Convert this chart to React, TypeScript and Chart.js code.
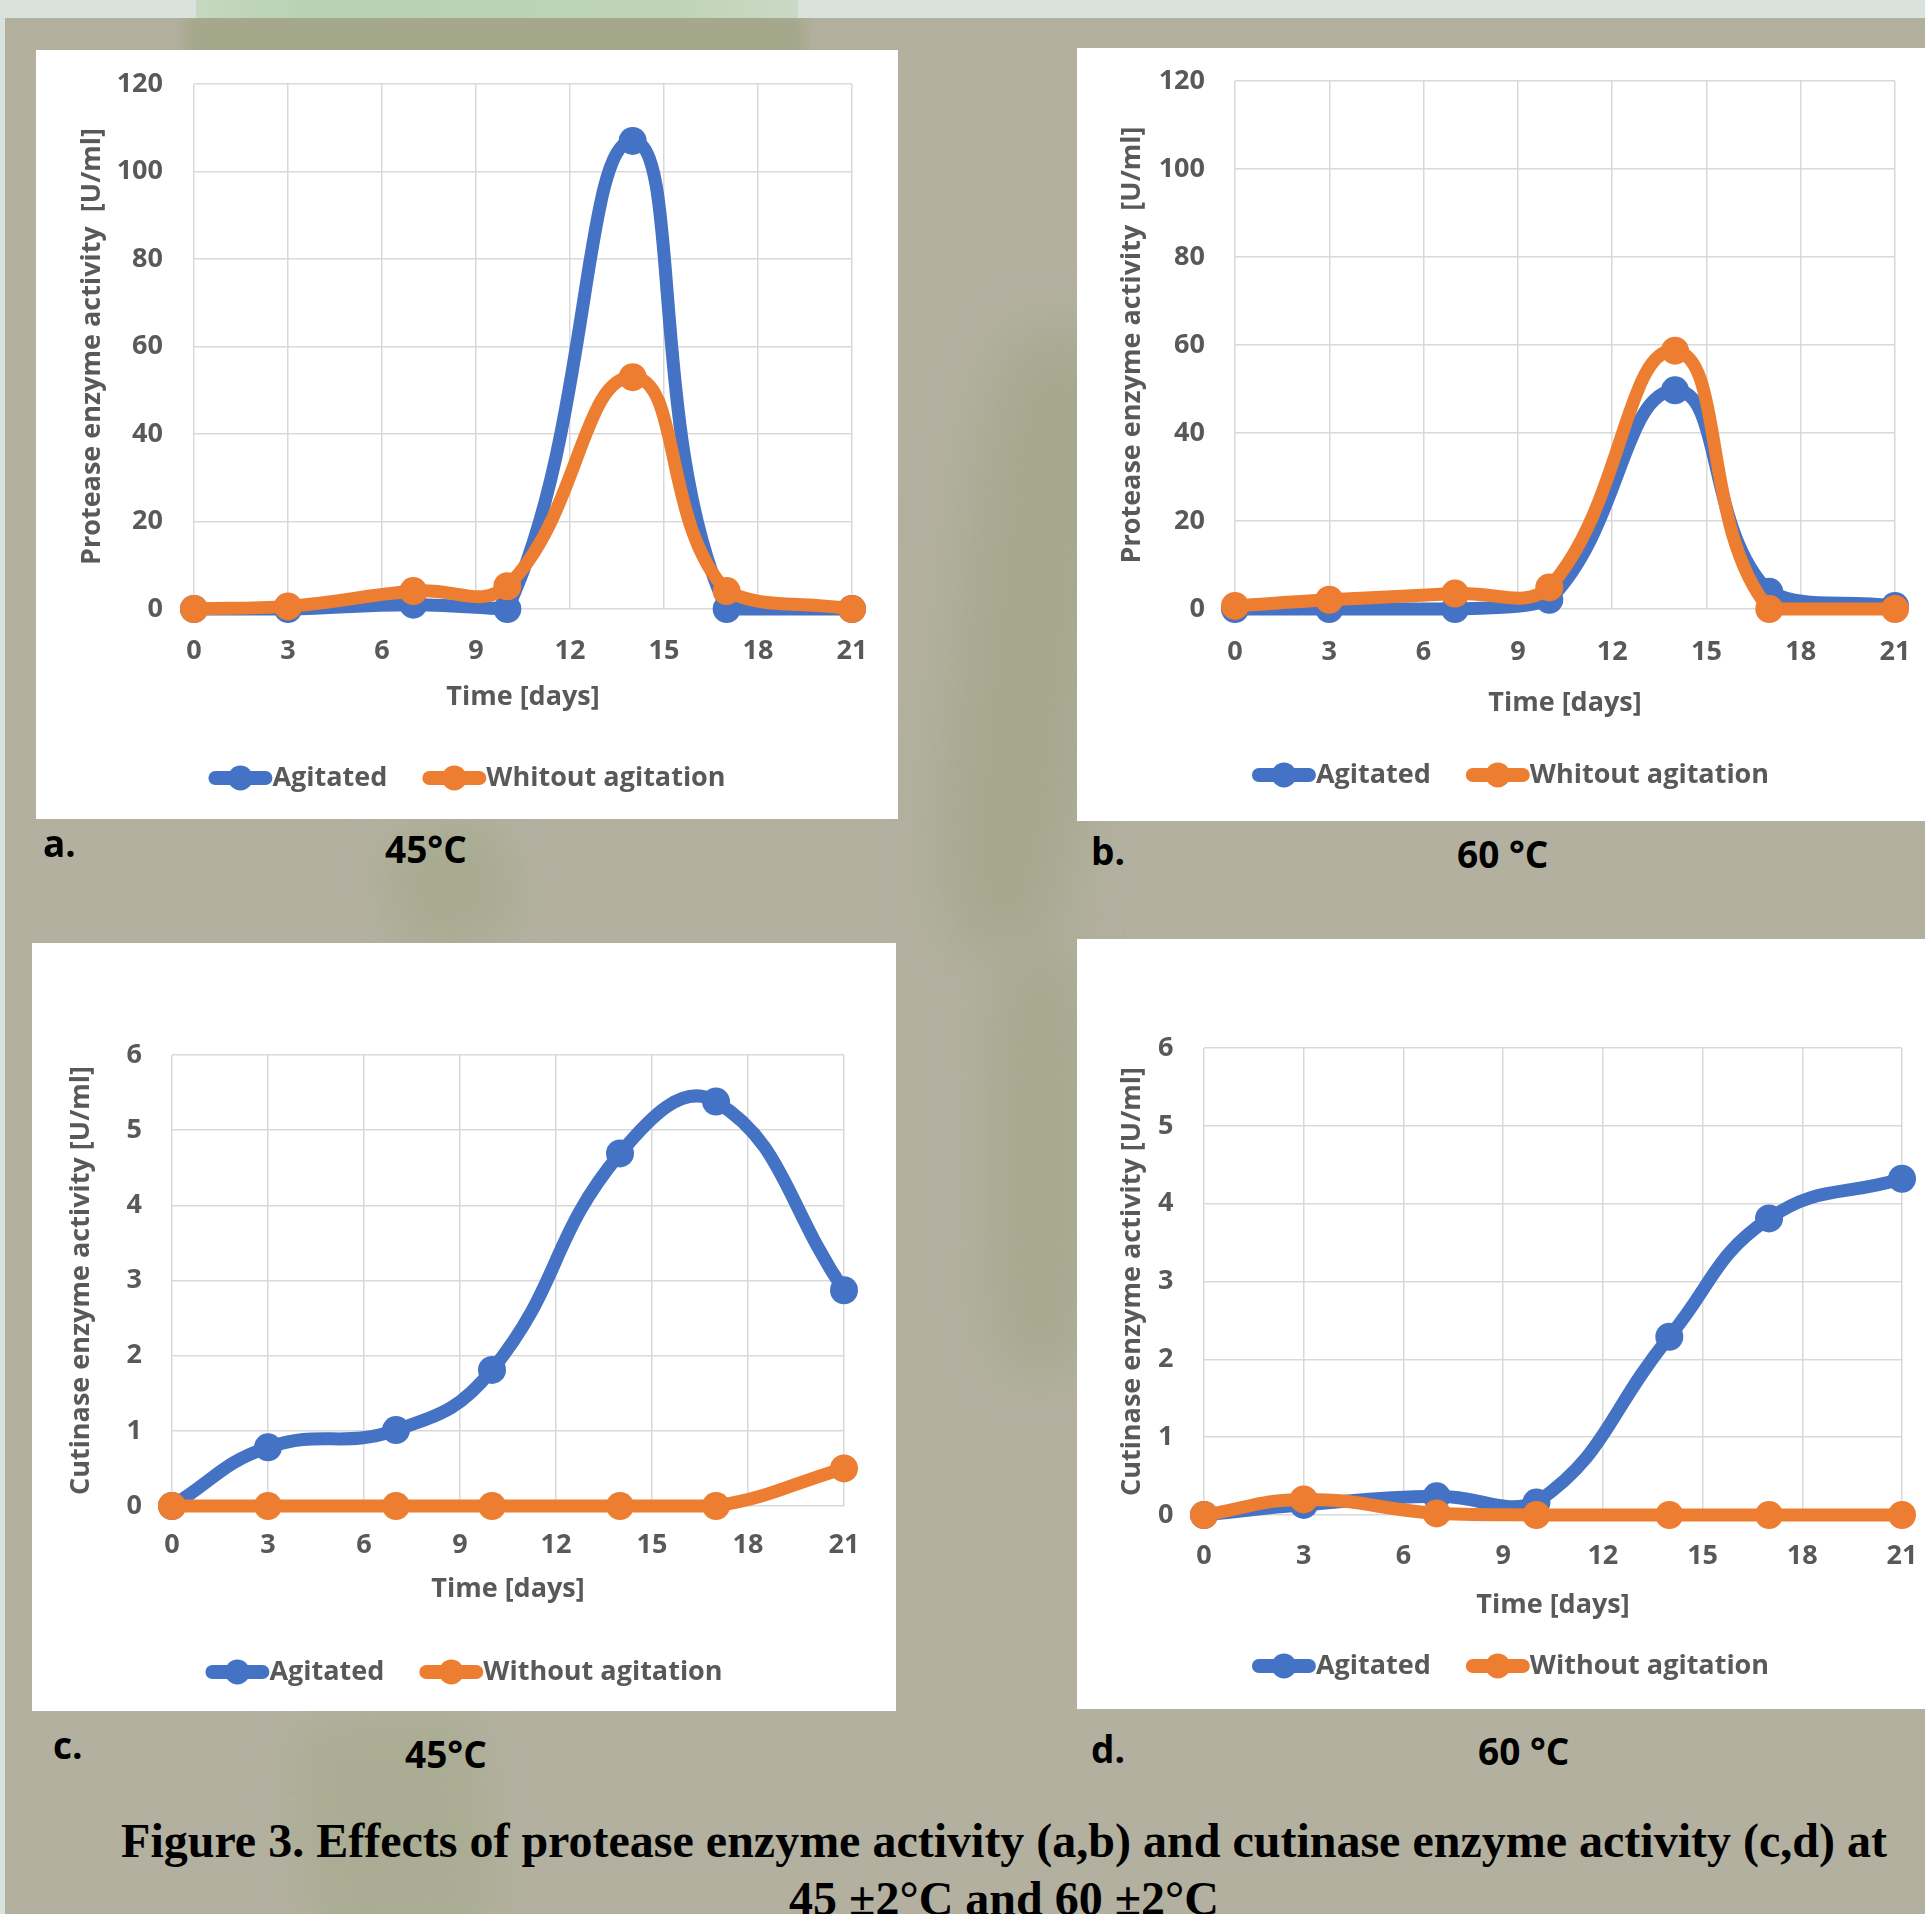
import React, { useEffect, useRef } from "react";
import { Chart, registerables } from "chart.js";

Chart.register(...registerables);

// ---------------- data ----------------
const days = [0, 3, 7, 10, 14, 17, 21];
const xTickValues = [0, 3, 6, 9, 12, 15, 18, 21];
const proteaseTicks = [0, 20, 40, 60, 80, 100, 120];
const cutinaseTicks = [0, 1, 2, 3, 4, 5, 6];

const proteaseAgitated45 = [0, 0, 1, 0, 107, 0, 0];
const proteaseWithout45 = [0, 0.6, 4.1, 5.2, 53, 4.1, 0];
const proteaseAgitated60 = [0, 0, 0, 2.1, 49.7, 3.9, 0.7];
const proteaseWithout60 = [0.7, 2.1, 3.5, 4.9, 58.7, 0, 0];
const cutinaseAgitated45 = [0, 0.78, 1.01, 1.81, 4.69, 5.38, 2.87];
const cutinaseWithout45 = [0, 0, 0, 0, 0, 0, 0.5];
const cutinaseAgitated60 = [0, 0.13, 0.24, 0.16, 2.29, 3.81, 4.32];
const cutinaseWithout60 = [0, 0.2, 0.02, 0, 0, 0, 0];

const seriesNames = ["Agitated", "Whitout agitation", "Without agitation"];
const xTitle = "Time [days]";
const proteaseTitle = "Protease enzyme activity  [U/ml]";
const cutinaseTitle = "Cutinase enzyme activity [U/ml]";

// ---------------- style ----------------
const FONT = "'Open Sans', 'Noto Sans', 'DejaVu Sans', sans-serif";
const FS = 27;
const LH = FS * 1.2;
const BLUE = "#4472c4";
const ORANGE = "#ed7d31";
const GRAY = "#595959";
const GRID = "#d9d9d9";

type PanelCfg = {
  left: number; top: number; width: number; height: number;
  plotL: number; plotR: number; plotT: number; plotB: number;
  yTickPad: number; yTitleC: number; xTickMid: number; xTitleMid: number; legendY: number;
  yMax: number; yTicks: number[]; yTitle: string;
  agitated: number[]; without: number[]; withoutLabel: string;
};

const panels: PanelCfg[] = [
  {
    left: 36, top: 50, width: 862, height: 769,
    plotL: 158, plotR: 816, plotT: 34, plotB: 559,
    yTickPad: 31, yTitleC: 56, xTickMid: 601, xTitleMid: 647, legendY: 728,
    yMax: 120, yTicks: proteaseTicks, yTitle: proteaseTitle,
    agitated: proteaseAgitated45, without: proteaseWithout45, withoutLabel: seriesNames[1],
  },
  {
    left: 1077, top: 48, width: 867, height: 773,
    plotL: 158, plotR: 818, plotT: 33, plotB: 561,
    yTickPad: 30, yTitleC: 55, xTickMid: 604, xTitleMid: 655.5, legendY: 727,
    yMax: 120, yTicks: proteaseTicks, yTitle: proteaseTitle,
    agitated: proteaseAgitated60, without: proteaseWithout60, withoutLabel: seriesNames[1],
  },
  {
    left: 32, top: 943, width: 864, height: 768,
    plotL: 140, plotR: 812, plotT: 112, plotB: 563,
    yTickPad: 30, yTitleC: 49, xTickMid: 602, xTitleMid: 646.5, legendY: 729,
    yMax: 6, yTicks: cutinaseTicks, yTitle: cutinaseTitle,
    agitated: cutinaseAgitated45, without: cutinaseWithout45, withoutLabel: seriesNames[2],
  },
  {
    left: 1077, top: 939, width: 867, height: 770,
    plotL: 127, plotR: 825, plotT: 109, plotB: 576,
    yTickPad: 30.5, yTitleC: 55.5, xTickMid: 617.5, xTitleMid: 666, legendY: 727,
    yMax: 6, yTicks: cutinaseTicks, yTitle: cutinaseTitle,
    agitated: cutinaseAgitated60, without: cutinaseWithout60, withoutLabel: seriesNames[2],
  },
];

function makeLegendPlugin(legendY: number) {
  return {
    id: "lineLegend",
    afterDraw(chart: any) {
      const ctx = chart.ctx as CanvasRenderingContext2D;
      const items = chart.data.datasets.map((ds: any) => ({ label: ds.label, color: ds.borderColor }));
      ctx.save();
      ctx.font = `bold ${FS}px ${FONT}`;
      const marker = 64;
      const gap = 35;
      const widths = items.map((it: any) => marker + ctx.measureText(it.label).width);
      const total = widths.reduce((a: number, b: number) => a + b, 0) + gap * (items.length - 1);
      let x = chart.width / 2 - total / 2;
      items.forEach((it: any, i: number) => {
        ctx.strokeStyle = it.color;
        ctx.lineWidth = 14;
        ctx.lineCap = "round";
        ctx.beginPath();
        ctx.moveTo(x + 7, legendY);
        ctx.lineTo(x + marker - 7, legendY);
        ctx.stroke();
        ctx.fillStyle = it.color;
        ctx.beginPath();
        ctx.arc(x + marker / 2, legendY, 12.5, 0, Math.PI * 2);
        ctx.fill();
        ctx.fillStyle = GRAY;
        ctx.textBaseline = "middle";
        ctx.textAlign = "left";
        ctx.fillText(it.label, x + marker, legendY);
        x += widths[i] + gap;
      });
      ctx.restore();
    },
  };
}

function Panel({ cfg }: { cfg: PanelCfg }) {
  const ref = useRef<HTMLCanvasElement | null>(null);
  useEffect(() => {
    if (!ref.current) return;
    const padLeft = cfg.yTitleC - LH / 2;
    const xScaleBottom = cfg.xTitleMid + LH / 2;
    const font = { family: FONT, size: FS, weight: "bold" as const };
    const mk = (vals: number[]) => days.map((d, i) => ({ x: d, y: vals[i] }));
    const common = {
      borderWidth: 13,
      pointRadius: 14,
      pointHoverRadius: 14,
      pointBorderWidth: 0,
      tension: 0.45,
      borderCapStyle: "round" as const,
      borderJoinStyle: "round" as const,
      clip: false as const,
      fill: false,
    };
    const chart = new Chart(ref.current, {
      type: "line",
      data: {
        datasets: [
          {
            ...common,
            label: seriesNames[0],
            data: mk(cfg.agitated),
            borderColor: BLUE,
            backgroundColor: BLUE,
            pointBackgroundColor: BLUE,
            order: 2,
          },
          {
            ...common,
            label: cfg.withoutLabel,
            data: mk(cfg.without),
            borderColor: ORANGE,
            backgroundColor: ORANGE,
            pointBackgroundColor: ORANGE,
            order: 1,
          },
        ],
      },
      options: {
        responsive: false,
        animation: false,
        events: [],
        layout: {
          padding: {
            left: padLeft,
            top: cfg.plotT,
            right: cfg.width - cfg.plotR,
            bottom: cfg.height - xScaleBottom,
          },
        },
        plugins: {
          legend: { display: false },
          tooltip: { enabled: false },
        },
        scales: {
          x: {
            type: "linear",
            min: 0,
            max: 21,
            afterBuildTicks: (s: any) => {
              s.ticks = xTickValues.map((v) => ({ value: v }));
            },
            afterFit: (s: any) => {
              s.height = xScaleBottom - cfg.plotB;
              s.paddingLeft = 0;
              s.paddingRight = 0;
            },
            grid: { color: GRID, lineWidth: 1.5, drawTicks: false },
            border: { display: false },
            ticks: {
              font,
              color: GRAY,
              padding: cfg.xTickMid - cfg.plotB - LH / 2,
              maxRotation: 0,
              autoSkip: false,
            },
            title: { display: true, text: xTitle, font, color: GRAY, padding: 0 },
          },
          y: {
            type: "linear",
            min: 0,
            max: cfg.yMax,
            afterBuildTicks: (s: any) => {
              s.ticks = cfg.yTicks.map((v) => ({ value: v }));
            },
            afterFit: (s: any) => {
              s.width = cfg.plotL - padLeft;
              s.paddingTop = 0;
              s.paddingBottom = 0;
            },
            grid: { color: GRID, lineWidth: 1.5, drawTicks: false },
            border: { display: false },
            ticks: { font, color: GRAY, padding: cfg.yTickPad, autoSkip: false },
            title: { display: true, text: cfg.yTitle, font, color: GRAY, padding: 0 },
          },
        },
      },
      plugins: [makeLegendPlugin(cfg.legendY)],
    } as any);
    return () => chart.destroy();
  }, [cfg]);
  return (
    <div
      style={{
        position: "absolute",
        left: cfg.left,
        top: cfg.top,
        width: cfg.width,
        height: cfg.height,
        background: "#ffffff",
      }}
    >
      <canvas
        ref={ref}
        width={cfg.width}
        height={cfg.height}
        style={{ display: "block", width: cfg.width, height: cfg.height }}
      />
    </div>
  );
}

const panelLabels = [
  { text: "a.", left: 43, base: 857 },
  { text: "45°C", left: 385, base: 863 },
  { text: "b.", left: 1091, base: 865 },
  { text: "60 °C", left: 1457, base: 868 },
  { text: "c.", left: 53, base: 1759 },
  { text: "45°C", left: 405, base: 1768 },
  { text: "d.", left: 1091, base: 1763 },
  { text: "60 °C", left: 1478, base: 1765 },
];

const captionLines = [
  "Figure 3. Effects of protease enzyme activity (a,b) and cutinase enzyme activity (c,d) at",
  "45 ±2°C and 60 ±2°C",
];

function Blob(p: { l: number; t: number; w: number; h: number; c: string; b?: number; r?: string; rot?: number }) {
  return (
    <div
      style={{
        position: "absolute",
        left: p.l,
        top: p.t,
        width: p.w,
        height: p.h,
        background: p.c,
        filter: `blur(${p.b ?? 18}px)`,
        borderRadius: p.r ?? "40%",
        transform: p.rot ? `rotate(${p.rot}deg)` : undefined,
      }}
    />
  );
}

export default function App() {
  useEffect(() => {
    document.body.style.margin = "0";
    document.body.style.overflow = "hidden";
  }, []);
  const LFS = 37;
  return (
    <div
      style={{
        position: "absolute",
        left: 0,
        top: 0,
        width: 1925,
        height: 1914,
        overflow: "hidden",
        background: "#b3b0a0",
      }}
    >
      {/* background photo-like tints */}
      <Blob l={185} t={12} w={620} h={56} c="#a3a78a" b={8} r="8%" />
      <Blob l={960} t={330} w={140} h={620} c="#a5a88d" b={30} r="30%" rot={6} />
      <Blob l={990} t={950} w={100} h={420} c="#a6a98e" b={25} r="30%" />
      <Blob l={390} t={825} w={120} h={120} c="#a8ab90" b={22} r="30%" rot={-15} />
      <Blob l={300} t={1715} w={190} h={230} c="#aaad93" b={22} r="20%" rot={-6} />
      {/* top strip */}
      <div style={{ position: "absolute", left: 0, top: 0, width: 1925, height: 18, background: "#d9e2dc" }} />
      <div
        style={{
          position: "absolute",
          left: 196,
          top: 0,
          width: 602,
          height: 18,
          background: "linear-gradient(90deg, #c5d8c1 0%, #b8d1b2 20%, #bfd4b6 80%, #cad9c6 100%)",
        }}
      />
      {/* left strip */}
      <div style={{ position: "absolute", left: 0, top: 0, width: 5, height: 1914, background: "#d9e2dc" }} />

      {panels.map((p, i) => (
        <Panel key={i} cfg={p} />
      ))}

      {panelLabels.map((l, i) => (
        <div
          key={i}
          style={{
            position: "absolute",
            left: l.left,
            top: l.base - 0.888 * LFS,
            fontFamily: FONT,
            fontWeight: 700,
            fontSize: LFS,
            lineHeight: `${LFS}px`,
            color: "#000",
            whiteSpace: "nowrap",
          }}
        >
          {l.text}
        </div>
      ))}

      {captionLines.map((line, i) => (
        <div
          key={i}
          style={{
            position: "absolute",
            left: 4,
            width: 2000,
            top: 1812 + i * 58,
            textAlign: "center",
            fontFamily: "'Liberation Serif', 'Times New Roman', serif",
            fontWeight: 700,
            fontSize: 48,
            lineHeight: "58px",
            color: "#000",
            whiteSpace: "nowrap",
          }}
        >
          {line}
        </div>
      ))}
    </div>
  );
}
